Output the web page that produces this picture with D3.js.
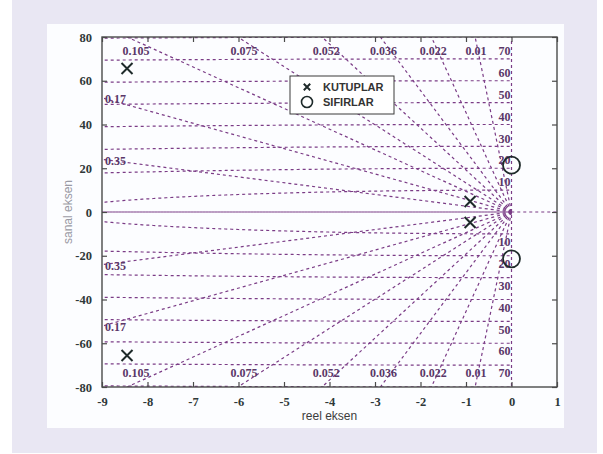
<!DOCTYPE html>
<html>
<head>
<meta charset="utf-8">
<script src="https://cdn.jsdelivr.net/npm/d3@7"></script>
<style>
  html, body { margin: 0; padding: 0; background: #ffffff; }
  svg { display: block; }
</style>
</head>
<body>
<div id="chart"></div>
<script>
// Pole-zero map with s-plane grid (damping-ratio rays and natural-frequency arcs)
const xTicks = [-9, -8, -7, -6, -5, -4, -3, -2, -1, 0, 1];
const yTicks = [-80, -60, -40, -20, 0, 20, 40, 60, 80];

// damping ratios of the grid rays (top/bottom labelled and left labelled)
const zetaTop = [0.01, 0.022, 0.036, 0.052, 0.075, 0.105];
const zetaLeft = [0.17, 0.35];
// natural-frequency arcs
const wnValues = [10, 20, 30, 40, 50, 60, 70, 80];
const wnLabels = [10, 20, 30, 40, 50, 60, 70];

// poles (real, imag) and zeros (real, imag)
const poleRe = [-8.45, -8.45, -0.91, -0.91];
const poleIm = [65.6, -65.6, 4.8, -4.8];
const zeroRe = [0, 0];
const zeroIm = [21.4, -21.4];

const legendItems = ["KUTUPLAR", "SIFIRLAR"];
const xTitle = "reel eksen";
const yTitle = "sanal eksen";

const W = 603, H = 454;
const margin = { left: 102, right: 46, top: 37, bottom: 67 };
const gridColor = "#7b3c86";
const labelColor = "#5a3768";
const axisColor = "#4a4a4a";
const dash = "3,3";

const svg = d3.select("#chart").append("svg").attr("width", W).attr("height", H);

// page backgrounds
svg.append("rect").attr("x", 12).attr("y", 0).attr("width", 585).attr("height", 453).attr("fill", "#e9e7f3");
svg.append("rect").attr("x", 47).attr("y", 24).attr("width", 517).attr("height", 404).attr("fill", "#fcfdff");

const x = d3.scaleLinear().domain([-9, 1]).range([margin.left, W - margin.right]);
const y = d3.scaleLinear().domain([-80, 80]).range([H - margin.bottom, margin.top]);
const [x0, x1] = x.range();
const [y0, y1] = y.range();

svg.append("defs").append("clipPath").attr("id", "plotClip")
  .append("rect").attr("x", x0).attr("y", y1).attr("width", x1 - x0).attr("height", y0 - y1);

const plot = svg.append("g").attr("clip-path", "url(#plotClip)");
const line = d3.line().x(d => x(d[0])).y(d => y(d[1]));
const gridPath = (pts, offset) => plot.append("path")
  .attr("d", line(pts))
  .attr("fill", "none").attr("stroke", gridColor).attr("stroke-width", 1.2)
  .attr("stroke-dasharray", dash).attr("stroke-dashoffset", offset || 0);

// damping-ratio rays from the origin
const allZeta = zetaTop.concat(zetaLeft);
const R = 400;
allZeta.forEach(z => {
  const s = Math.sqrt(1 - z * z);
  [1, -1].forEach(sign => gridPath([[0, 0], [-R * z, sign * R * s]]));
});

// natural-frequency arcs in the left half plane
wnValues.forEach(wn => {
  const xmin = Math.max(-wn, -9.6);
  const pts = d3.range(0, 201).map(i => xmin * (1 - i / 200));
  [1, -1].forEach(sign =>
    gridPath(pts.map(px => [px, sign * Math.sqrt(Math.max(wn * wn - px * px, 0))])));
});

// real and imaginary axes
gridPath([[-9.5, 0], [1.5, 0]]);
gridPath([[-9.5, 0], [0, 0]], 3);
gridPath([[0, -85], [0, 85]]);

// grid labels
const gl = svg.append("g")
  .attr("font-family", "'Liberation Serif', serif").attr("font-weight", "bold")
  .attr("font-size", 12).attr("fill", labelColor);

zetaTop.forEach(z => {
  const s = Math.sqrt(1 - z * z);
  const xt = -80 * z / s * 0.977;
  [1, -1].forEach(sign => {
    gl.append("text").attr("x", x(xt)).attr("y", y(sign * 80) + sign * 14)
      .attr("text-anchor", "middle").attr("dy", "0.35em").text(String(z));
  });
});
zetaLeft.forEach(z => {
  const s = Math.sqrt(1 - z * z);
  const yl = 9 * s / z;
  [1, -1].forEach(sign => {
    gl.append("text").attr("x", x0 + 3).attr("y", y(sign * yl) + 1)
      .attr("text-anchor", "start").attr("dy", "0.35em").text(String(z));
  });
});
wnLabels.forEach(wn => {
  [1, -1].forEach(sign => {
    gl.append("text").attr("x", x(0) - 1).attr("y", y(sign * wn) - sign * 8)
      .attr("text-anchor", "end").attr("dy", "0.35em").text(String(wn));
  });
});

// axes frame and ticks
const axes = svg.append("g");
axes.append("rect").attr("x", x0).attr("y", y1).attr("width", x1 - x0).attr("height", y0 - y1)
  .attr("fill", "none").attr("stroke", axisColor).attr("stroke-width", 1.4);

const tickFont = "'Liberation Serif', serif";
const fmt = d => String(d);
const gx = axes.append("g").attr("transform", `translate(0,${y0})`)
  .call(d3.axisBottom(x).tickValues(xTicks).tickSize(-5).tickPadding(10).tickFormat(fmt));
const gxTop = axes.append("g").attr("transform", `translate(0,${y1})`)
  .call(d3.axisTop(x).tickValues(xTicks).tickSize(-5).tickFormat(""));
const gy = axes.append("g").attr("transform", `translate(${x0},0)`)
  .call(d3.axisLeft(y).tickValues(yTicks).tickSize(-5).tickPadding(10).tickFormat(fmt));
const gyRight = axes.append("g").attr("transform", `translate(${x1},0)`)
  .call(d3.axisRight(y).tickValues(yTicks).tickSize(-5).tickFormat(""));

[gx, gxTop, gy, gyRight].forEach(g => {
  g.select(".domain").remove();
  g.selectAll(".tick line").attr("stroke", axisColor).attr("stroke-width", 1.2);
  g.selectAll(".tick text").attr("font-family", tickFont).attr("font-weight", "bold")
    .attr("font-size", 12.5).attr("fill", "#2f3838");
});

// axis titles
svg.append("text").attr("x", (x0 + x1) / 2).attr("y", 420)
  .attr("text-anchor", "middle").attr("font-family", "'Liberation Sans', Arial, sans-serif")
  .attr("font-size", 12).attr("fill", "#3c3c3c").text(xTitle);
svg.append("text").attr("transform", `translate(72,${(y0 + y1) / 2}) rotate(-90)`)
  .attr("text-anchor", "middle").attr("font-family", "'Liberation Sans', Arial, sans-serif")
  .attr("font-size", 12).attr("fill", "#9a9aa4").text(yTitle);

// markers
const markColor = "#1e2a2a";
const cross = (g, cx, cy, h, w) => {
  g.append("path").attr("d", `M${cx - h},${cy - h}L${cx + h},${cy + h}M${cx - h},${cy + h}L${cx + h},${cy - h}`)
    .attr("stroke", markColor).attr("stroke-width", w).attr("fill", "none");
};
const marks = svg.append("g");
poleRe.forEach((re, i) => cross(marks, x(re), y(poleIm[i]), 5.5, 2));
zeroRe.forEach((re, i) => {
  marks.append("circle").attr("cx", x(re)).attr("cy", y(zeroIm[i])).attr("r", 8.5)
    .attr("fill", "none").attr("stroke", markColor).attr("stroke-width", 1.8);
});

// legend
const lg = svg.append("g");
lg.append("rect").attr("x", 290).attr("y", 76).attr("width", 104).attr("height", 38)
  .attr("fill", "#ffffff").attr("stroke", "#3a3a3a").attr("stroke-width", 1);
cross(lg, 307, 87, 3.2, 2);
lg.append("circle").attr("cx", 307).attr("cy", 102).attr("r", 5.5)
  .attr("fill", "none").attr("stroke", markColor).attr("stroke-width", 1.6);
legendItems.forEach((t, i) => {
  lg.append("text").attr("x", 323).attr("y", 87 + i * 15).attr("dy", "0.35em")
    .attr("font-family", "'Liberation Sans', Arial, sans-serif").attr("font-weight", "bold")
    .attr("font-size", 11).attr("fill", "#333").text(t);
});
</script>
</body>
</html>
